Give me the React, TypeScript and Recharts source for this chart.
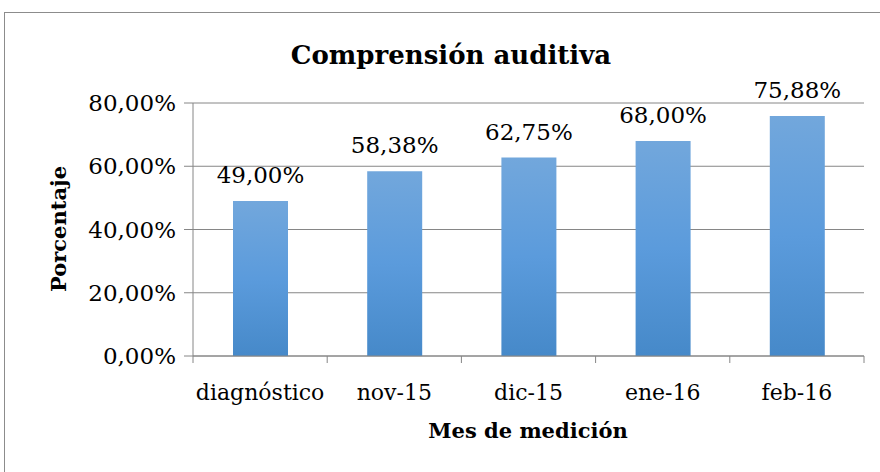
import { BarChart, Bar, XAxis, YAxis, CartesianGrid, LabelList } from "recharts"

const months = ["diagnóstico", "nov-15", "dic-15", "ene-16", "feb-16"]
const scores = [0.49, 0.5838, 0.6275, 0.68, 0.7588]
const yTicks = [0, 0.2, 0.4, 0.6, 0.8]

const FONT = "'DejaVu Serif', serif"
const GRID = "#868686"

const data = months.map((m, i) => ({ month: m, value: scores[i] }))

const pct = (v: number) => (v * 100).toFixed(2).replace(".", ",") + "%"

// category label plus Excel-like tick marks on the category boundaries
function MonthTick(props: any) {
  const { x, y, payload, index } = props
  const half = 134.2 / 2
  return (
    <g>
      {index === 0 && <line x1={x - half} x2={x - half} y1={y - 8} y2={y - 1} stroke={GRID} />}
      <line x1={x + half} x2={x + half} y1={y - 8} y2={y - 1} stroke={GRID} />
      <text x={x} y={y + 36} textAnchor="middle" fontFamily={FONT} fontSize={22} fill="#000">
        {payload.value}
      </text>
    </g>
  )
}

export default function App() {
  return (
    <div style={{ position: "absolute", left: 0, top: 0, width: 880, height: 472, overflow: "hidden", background: "#fff" }}>
      <div
        style={{
          position: "absolute",
          left: 4,
          top: 12,
          width: 920,
          height: 520,
          border: "1px solid #8c8c8c",
          boxSizing: "border-box",
        }}
      />
      <div style={{ position: "absolute", left: 0, top: 0 }}>
        <BarChart width={880} height={472} data={data} margin={{ top: 103, right: 16, bottom: 86, left: 0 }}>
          <defs>
            <linearGradient id="barFill" x1="0" y1="0" x2="0" y2="1">
              <stop offset="0%" stopColor="#72a7dc" />
              <stop offset="50%" stopColor="#5b9bdc" />
              <stop offset="100%" stopColor="#4689c9" />
            </linearGradient>
          </defs>
          <text x={451} y={64} textAnchor="middle" fontFamily={FONT} fontWeight="bold" fontSize={26} fill="#000">
            Comprensión auditiva
          </text>
          <text
            x={0}
            y={0}
            transform="translate(66, 229) rotate(-90)"
            textAnchor="middle"
            fontFamily={FONT}
            fontWeight="bold"
            fontSize={21}
            fill="#000"
          >
            Porcentaje
          </text>
          <text x={528} y={438} textAnchor="middle" fontFamily={FONT} fontWeight="bold" fontSize={21} fill="#000">
            Mes de medición
          </text>
          <CartesianGrid vertical={false} stroke={GRID} strokeWidth={1} />
          <XAxis
            dataKey="month"
            height={30}
            axisLine={{ stroke: GRID }}
            tickLine={false}
            tick={<MonthTick />}
            interval={0}
          />
          <YAxis
            width={193}
            domain={[0, 0.8]}
            ticks={yTicks}
            tickFormatter={pct}
            axisLine={{ stroke: GRID }}
            tickLine={{ stroke: GRID }}
            tickSize={9}
            tickMargin={8}
            tick={{ fontFamily: FONT, fontSize: 23, fill: "#000" }}
          />
          <Bar dataKey="value" fill="url(#barFill)" barSize={55} isAnimationActive={false}>
            <LabelList
              dataKey="value"
              position="top"
              offset={18}
              formatter={(v: any) => pct(Number(v))}
              style={{ fontFamily: FONT, fontSize: 23, fill: "#000" }}
            />
          </Bar>
        </BarChart>
      </div>
    </div>
  )
}
